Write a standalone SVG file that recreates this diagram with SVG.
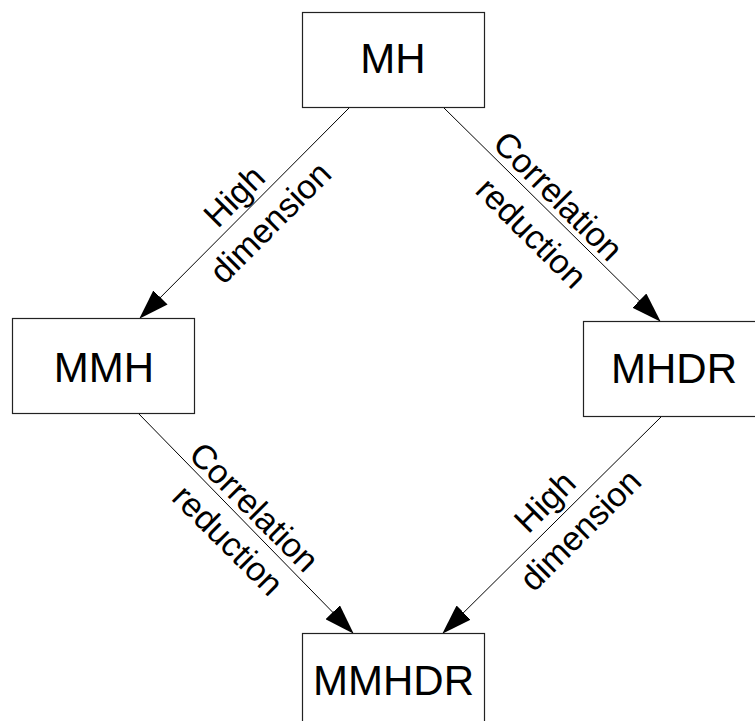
<svg xmlns="http://www.w3.org/2000/svg" width="755" height="721" viewBox="0 0 755 721">
<defs>
<style>
.box{fill:#fff;stroke:#222;stroke-width:1.2}
.nt{font-family:"Liberation Sans",Arial,sans-serif;font-size:42px;text-anchor:middle;fill:#000}
.lt{font-family:"Liberation Sans",Arial,sans-serif;font-size:34px;text-anchor:middle;fill:#000}
.edge{stroke:#000;stroke-width:1;fill:none;marker-end:url(#ah)}
</style>
<marker id="ah" markerUnits="userSpaceOnUse" markerWidth="30" markerHeight="20" refX="29" refY="10" orient="auto">
<path d="M0,0 L30,10 L0,20 Z" fill="#000"/>
</marker>
</defs>
<rect width="755" height="721" fill="#fff"/>
<g id="connectors">
<line class="edge" x1="350" y1="107" x2="140" y2="318"/>
<line class="edge" x1="443" y1="107" x2="660" y2="321"/>
<line class="edge" x1="138" y1="413" x2="353" y2="633"/>
<line class="edge" x1="662" y1="416" x2="443" y2="633"/>
</g>
<g id="labels">
<g transform="translate(253,208) rotate(-45)"><text class="lt" x="-5" y="-10">High</text><text class="lt" x="2" y="34">dimension</text></g>
<g transform="translate(545,215) rotate(45)"><text class="lt" x="-4" y="-11">Correlation</text><text class="lt" x="3" y="34">reduction</text></g>
<g transform="translate(241,523) rotate(45)"><text class="lt" x="-2" y="-9">Correlation</text><text class="lt" x="3" y="33">reduction</text></g>
<g transform="translate(563,517) rotate(-45)"><text class="lt" x="-2" y="-12">High</text><text class="lt" x="3" y="33">dimension</text></g>
</g>
<g id="MH"><rect class="box" x="302.5" y="12.5" width="182" height="95"/><text class="nt" x="393" y="73">MH</text></g>
<g id="MMH"><rect class="box" x="12.5" y="318.5" width="182" height="95"/><text class="nt" x="104" y="382">MMH</text></g>
<g id="MHDR"><rect class="box" x="583.5" y="321.5" width="182" height="95"/><text class="nt" x="674" y="383">MHDR</text></g>
<g id="MMHDR"><rect class="box" x="302.5" y="633.5" width="182" height="95"/><text class="nt" x="393.5" y="695">MMHDR</text></g>
</svg>
